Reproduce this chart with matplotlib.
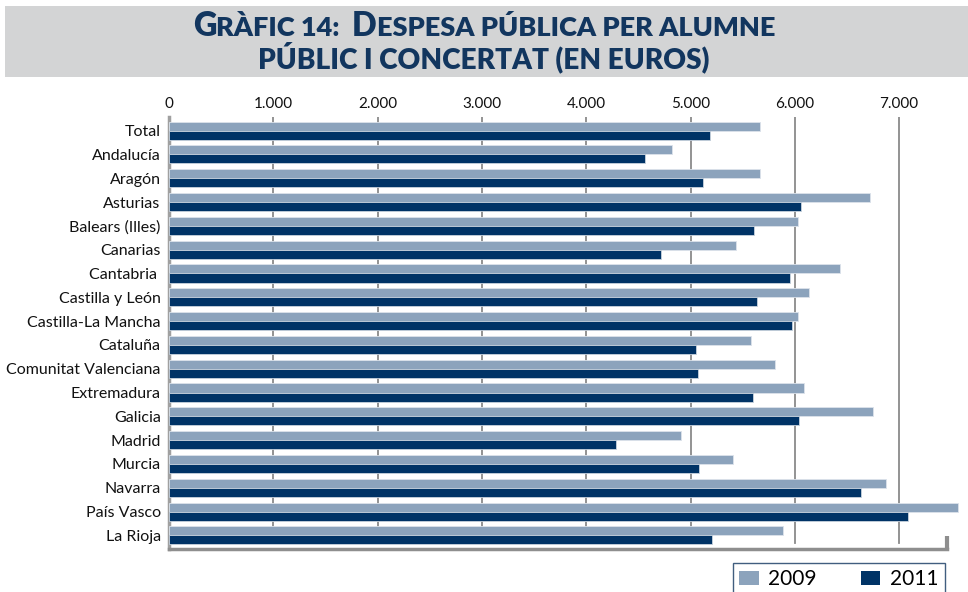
import matplotlib
matplotlib.use("Agg")
import matplotlib.pyplot as plt
from matplotlib.patches import Rectangle, Patch
from matplotlib.lines import Line2D
import numpy as np

categories = ["Total", "Andalucía", "Aragón", "Asturias", "Balears (Illes)", "Canarias",
              "Cantabria ", "Castilla y León", "Castilla-La Mancha", "Cataluña",
              "Comunitat Valenciana", "Extremadura", "Galicia", "Madrid", "Murcia",
              "Navarra", "País Vasco", "La Rioja"]
v2009 = [5666, 4821, 5666, 6722, 6030, 5433, 6436, 6138, 6030, 5577,
         5811, 6087, 6754, 4907, 5404, 6876, 7562, 5885]
v2011 = [5183, 4568, 5119, 6061, 5609, 4721, 5952, 5635, 5975, 5052,
         5071, 5599, 6042, 4282, 5083, 6636, 7084, 5205]
xticks = [0, 1000, 2000, 3000, 4000, 5000, 6000, 7000]
xticklabels = ["0", "1.000", "2.000", "3.000", "4.000", "5.000", "6.000", "7.000"]
series_names = ["2009", "2011"]

C09 = "#8CA3BC"
C11 = "#003366"
NAVY = "#12365F"
FONT = "Lato"

W, H = 968, 592
fig = plt.figure(figsize=(W / 100, H / 100), dpi=100)

# title band
fig.patches.append(Rectangle((5 / W, 1 - 77 / H), (W - 5) / W, 71 / H,
                             transform=fig.transFigure, facecolor="#D3D4D5",
                             edgecolor="none", zorder=0))

ax = fig.add_axes([169 / W, 1 - 549 / H, (947 - 169) / W, (549 - 117) / H])
y = np.arange(len(categories))
h = 0.38
b1 = ax.barh(y - h / 2, v2009, height=h, color=C09, edgecolor="#DCE3EB", linewidth=0.6, zorder=3)
b2 = ax.barh(y + h / 2, v2011, height=h, color=C11, edgecolor="#C9D3DE", linewidth=0.6, zorder=3)
for b in list(b1) + list(b2):
    b.set_clip_on(False)
ax.set_xlim(0, (947 - 169) / 104.3 * 1000)
ax.set_ylim(len(categories) - 0.43, -0.57)

ax.set_yticks(y)
ax.set_yticklabels(categories, fontfamily=FONT, fontsize=11.5, color="#111111")
ax.set_xticks(xticks)
ax.set_xticklabels(xticklabels, fontfamily=FONT, fontsize=11, color="#111111")
ax.xaxis.tick_top()
ax.tick_params(axis="both", length=0, pad=4)
ax.tick_params(axis="y", pad=6)

for xt in xticks[1:]:
    ax.axvline(xt, ymin=0.015, ymax=1.0, color="#8A8A8A", linewidth=1.3, zorder=1)

for s in ["top", "right"]:
    ax.spines[s].set_visible(False)
ax.spines["left"].set_color("#A0A0A0")
ax.spines["left"].set_linewidth(2.5)
ax.spines["bottom"].set_color("#8E8E8E")
ax.spines["bottom"].set_linewidth(2.5)
ax.add_line(Line2D([1, 1], [0, 0.03], transform=ax.transAxes, color="#8E8E8E",
                   linewidth=3, clip_on=False, solid_capstyle="butt"))

# legend
leg = fig.legend(handles=[Patch(facecolor=C09, edgecolor="none", label=series_names[0]),
                          Patch(facecolor=C11, edgecolor="none", label=series_names[1])],
                 loc="upper left", bbox_to_anchor=(733 / W, 1 - 563 / H), ncol=2,
                 frameon=True, fancybox=False, prop={"family": FONT, "size": 15},
                 handlelength=0.95, handleheight=0.6, columnspacing=2.1, borderpad=0.3,
                 handletextpad=0.45, borderaxespad=0)
leg.get_frame().set_edgecolor(NAVY)
leg.get_frame().set_linewidth(1.0)

# small-caps title
renderer = fig.canvas.get_renderer()
BIG, SMALL = 23.5, 19.5

def smallcaps_line(pieces, ycen, small=SMALL):
    texts = []
    for txt, big in pieces:
        t = fig.text(0, ycen, txt, fontsize=BIG if big else small, fontweight="heavy",
                     fontfamily=FONT, color=NAVY, va="baseline", ha="left")
        texts.append(t)
    widths = [t.get_window_extent(renderer).width for t in texts]
    total = sum(widths)
    x = (484 - total / 2) / W
    for t, w in zip(texts, widths):
        t.set_x(x)
        x += w / W

smallcaps_line([("G", True), ("RÀFIC 14:  ", False), ("D", True),
                ("ESPESA PÚBLICA PER ALUMNE", False)], 1 - 36 / H)
smallcaps_line([("PÚBLIC I CONCERTAT (EN EUROS)", False)], 1 - 68 / H, small=20.2)

fig.savefig("out.png", dpi=100)
